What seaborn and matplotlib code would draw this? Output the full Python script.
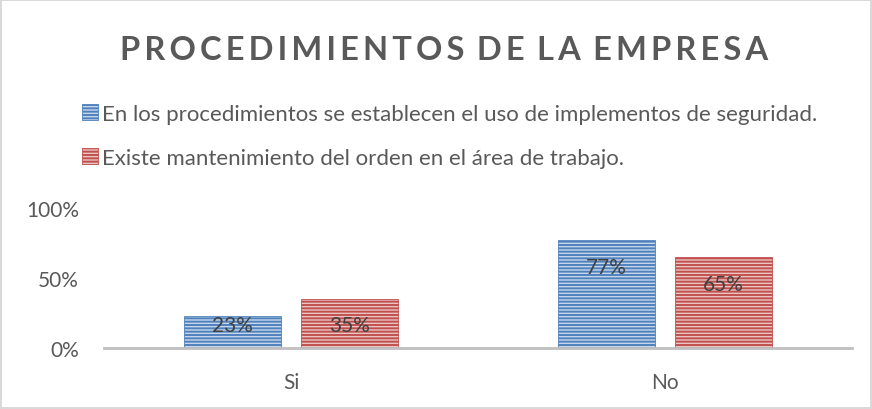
import matplotlib
matplotlib.use("Agg")
import matplotlib.pyplot as plt
import seaborn as sns
import pandas as pd

categories = ["Si", "No"]
series_names = [
    "En los procedimientos se establecen el uso de implementos de seguridad.",
    "Existe mantenimiento del orden en el área de trabajo.",
]
values_seguridad = [23, 77]
values_orden = [35, 65]
y_ticks = [0, 50, 100]
y_tick_labels = ["0%", "50%", "100%"]
title = "PROCEDIMIENTOS DE LA EMPRESA"

stripe_colors = ["#4F81BD", "#C0504D"]
fill_colors = ["#C6D6EA", "#EBC4C3"]

df = pd.DataFrame({
    "cat": categories * 2,
    "serie": [series_names[0]] * 2 + [series_names[1]] * 2,
    "val": values_seguridad + values_orden,
})

sns.set_theme(style="white")
plt.rcParams["font.family"] = ["Lato", "DejaVu Sans"]
plt.rcParams["hatch.linewidth"] = 1.4

fig = plt.figure(figsize=(8.72, 4.10), dpi=100)
fig.patch.set_facecolor("white")
fig.patch.set_edgecolor("#D9D9D9")
fig.patch.set_linewidth(1.5)
ax = fig.add_axes([104 / 872, 1 - 349 / 410, 748 / 872, 140 / 410])

sns.barplot(data=df, x="cat", y="val", hue="serie", hue_order=series_names,
            order=categories, palette=stripe_colors, width=0.628, gap=0.172,
            legend=False, ax=ax, errorbar=None)

for i, cont in enumerate(ax.containers):
    for p in cont:
        p.set_facecolor(fill_colors[i])
        p.set_edgecolor(stripe_colors[i])
        p.set_hatch("-----")
        p.set_linewidth(0.6)
    labels = [f"{int(round(v))}%" for v in cont.datavalues]
    for p, lab, v in zip(cont, labels, cont.datavalues):
        cx = p.get_x() + p.get_width() / 2
        ytxt = max(v - 19.3, 16.5)
        ax.text(cx, ytxt, lab, ha="center", va="center", fontsize=15,
                color="#404040")

ax.set_xlim(-0.5, 1.5)
ax.set_ylim(0, 100)
ax.set_yticks(y_ticks)
ax.set_yticklabels(y_tick_labels)
ax.set_xlabel("")
ax.set_ylabel("")
for s in ["left", "right", "top"]:
    ax.spines[s].set_visible(False)
ax.spines["bottom"].set_color("#BFBFBF")
ax.spines["bottom"].set_linewidth(2)
ax.tick_params(axis="both", length=0, labelsize=15, labelcolor="#595959")
ax.tick_params(axis="y", pad=18)
ax.tick_params(axis="x", pad=17)
ax.grid(False)

fig.text(0.509, 1 - 50 / 410, "\u2009".join(list(title)).replace("\u2009 \u2009", "\u2009\u2009\u2009"),
         ha="center", va="center", fontsize=23.5, fontweight="bold",
         color="#595959", family=["Lato", "DejaVu Sans"])

handles = [cont[0] for cont in ax.containers]
leg = fig.legend(handles, series_names, loc="upper left",
                 bbox_to_anchor=(82 / 872, 1 - 105 / 410), frameon=False,
                 fontsize=16.0, handlelength=0.7, handleheight=0.7,
                 handletextpad=0.2, labelspacing=1.07, borderaxespad=0,
                 borderpad=0)
for t in leg.get_texts():
    t.set_color("#595959")

fig.savefig("out.png", dpi=100)
